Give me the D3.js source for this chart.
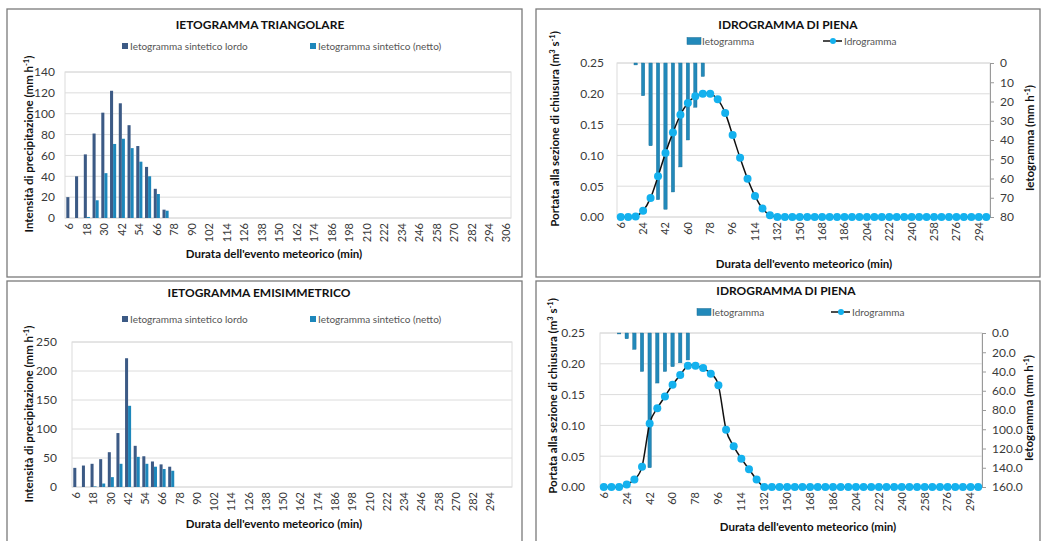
<!DOCTYPE html>
<html>
<head>
<meta charset="utf-8">
<script src="https://cdn.jsdelivr.net/npm/d3@7"></script>
<style>
  body { margin: 0; background: #fff; }
  svg text { font-family: Lato, "Open Sans", sans-serif; fill: #404040; }
  .title { font-weight: bold; font-size: 12px; fill: #111; }
  .axTitle { font-weight: bold; font-size: 11.5px; fill: #111; }
  .tick text { font-size: 12px; fill: #3a3a3a; }
  .xlab .tick text { font-size: 11px; }
  .legend text { font-size: 10px; fill: #555; }
</style>
</head>
<body>
<svg id="chart" width="1047" height="541"></svg>
<script>
// categories (minutes)
var durate = [6,12,18,24,30,36,42,48,54,60,66,72,78,84,90,96,102,108,114,120,126,132,138,144,150,156,162,168,174,180,186,192,198,204,210,216,222,228,234,240,246,252,258,264,270,276,282,288,294,300,306];
var durateIdro = [6,12,18,24,30,36,42,48,54,60,66,72,78,84,90,96,102,108,114,120,126,132,138,144,150,156,162,168,174,180,186,192,198,204,210,216,222,228,234,240,246,252,258,264,270,276,282,288,294,300];

// tick labels
var tickTri = [6,18,30,42,54,66,78,90,102,114,126,138,150,162,174,186,198,210,222,234,246,258,270,282,294,306];
var tickEmi = [6,18,30,42,54,66,78,90,102,114,126,138,150,162,174,186,198,210,222,234,246,258,270,282,294];
var tickIdro = [6,24,42,60,78,96,114,132,150,168,186,204,222,240,258,276,294];

// ietogramma triangolare (mm/h), first 12 durations, rest are 0
var lordoTri = [20,40,61,81,101,122,110,89,69,49,28,8];
var nettoTri = [0,0,1,17,43,71,76,67,54,40,23,7];

// ietogramma emisimmetrico (mm/h)
var lordoEmi = [33,37,40,48,60,93,222,71,53,44,39,35];
var nettoEmi = [0,0,1,6,17,40,140,52,40,35,31,28];

// idrogrammi di piena (m3/s)
var idroTri = [0,0,0.001,0.010,0.031,0.066,0.104,0.137,0.166,0.185,0.196,0.200,0.200,0.191,0.169,0.133,0.096,0.062,0.034,0.014,0.003,0,0,0,0,0,0,0,0,0,0,0,0,0,0,0,0,0,0,0,0,0,0,0,0,0,0,0,0,0];
var idroEmi = [0,0,0,0.004,0.012,0.033,0.103,0.128,0.147,0.166,0.182,0.197,0.197,0.193,0.184,0.165,0.093,0.066,0.046,0.029,0.012,0,0,0,0,0,0,0,0,0,0,0,0,0,0,0,0,0,0,0,0,0,0,0,0,0,0,0,0,0];

var svg = d3.select("#chart");

var cLordo = "#3c5a85";
var cNetto = "#1d87bb";
var cBar = "#2289ba";
var cMarker = "#14b1ee";
var cGrid = "#dcdcdc";

// panel frames
[[7, 9, 515, 268], [536, 9, 504, 268], [7, 281, 515, 264], [536, 281, 504, 264]].forEach(function(b) {
  svg.append("rect")
    .attr("x", b[0]).attr("y", b[1])
    .attr("width", b[2]).attr("height", b[3])
    .attr("fill", "none")
    .attr("stroke", "#7a7a7a")
    .attr("stroke-width", 1.3);
});

// rotated axis title; parts = [[text, superscript?], ...]
function unitTitle(cx, cy, parts) {
  var t = svg.append("text")
    .attr("class", "axTitle")
    .attr("transform", "translate(" + cx + "," + cy + ") rotate(-90)")
    .attr("text-anchor", "middle")
    .attr("dy", "0.35em");
  var up = false;
  parts.forEach(function(p) {
    var s = t.append("tspan").text(p[0]);
    if (p[1] && !up) { s.attr("dy", -4).attr("font-size", "7.5px"); up = true; }
    else if (!p[1] && up) { s.attr("dy", 4); up = false; }
    else if (p[1]) { s.attr("font-size", "7.5px"); }
  });
}

function xTitle(cx, y) {
  svg.append("text")
    .attr("class", "axTitle")
    .attr("x", cx).attr("y", y)
    .attr("text-anchor", "middle")
    .text("Durata dell'evento meteorico (min)");
}

function xLabels(x, bottom, ticks) {
  var ax = svg.append("g")
    .attr("class", "xlab")
    .attr("transform", "translate(0," + bottom + ")")
    .call(d3.axisBottom(x).tickValues(ticks).tickSize(0));
  ax.select(".domain").remove();
  ax.selectAll("text")
    .attr("transform", "rotate(-90)")
    .attr("text-anchor", "end")
    .attr("x", -5)
    .attr("y", 0)
    .attr("dy", "0.35em");
}

// ---- Ietogramma panels (left) ----
function ietoPanel(p) {
  var x = d3.scaleBand().domain(durate).range([p.left, p.right]).paddingInner(0.3).paddingOuter(0.15);
  var xs = d3.scaleBand().domain(["lordo", "netto"]).range([0, x.bandwidth()]);
  var y = d3.scaleLinear().domain([0, p.yMax]).range([p.bottom, p.top]);
  var yTicks = d3.range(0, p.yMax + 1, p.yStep);

  // grid
  svg.append("g").selectAll("line").data(yTicks).enter()
    .append("line")
    .attr("x1", p.left).attr("x2", p.right)
    .attr("y1", function(d) { return y(d); })
    .attr("y2", function(d) { return y(d); })
    .attr("stroke", cGrid);
  svg.append("rect")
    .attr("x", p.left).attr("y", p.top)
    .attr("width", p.right - p.left).attr("height", p.bottom - p.top)
    .attr("fill", "none").attr("stroke", cGrid);

  var ay = svg.append("g")
    .attr("transform", "translate(" + (p.left - p.yPad) + ",0)")
    .call(d3.axisLeft(y).tickValues(yTicks).tickSize(0));
  ay.select(".domain").remove();

  xLabels(x, p.bottom, p.ticks);

  // bars
  svg.append("g").selectAll("rect").data(p.lordo).enter()
    .append("rect")
    .attr("x", function(d, i) { return x(durate[i]) + xs("lordo"); })
    .attr("y", function(d) { return y(d); })
    .attr("width", xs.bandwidth())
    .attr("height", function(d) { return p.bottom - y(d); })
    .attr("fill", cLordo);
  svg.append("g").selectAll("rect").data(p.netto).enter()
    .append("rect")
    .attr("x", function(d, i) { return x(durate[i]) + xs("netto"); })
    .attr("y", function(d) { return y(d); })
    .attr("width", xs.bandwidth())
    .attr("height", function(d) { return p.bottom - y(d); })
    .attr("fill", cNetto);

  svg.append("text").attr("class", "title")
    .attr("x", p.titleX).attr("y", p.titleY)
    .attr("text-anchor", "middle").attr("dy", "0.35em")
    .text(p.title);

  // legend
  var lg = svg.append("g").attr("class", "legend");
  [["Ietogramma sintetico lordo", cLordo, 122], ["Ietogramma sintetico (netto)", cNetto, 310]].forEach(function(l) {
    lg.append("rect").attr("x", l[2]).attr("y", p.legY - 3).attr("width", 6).attr("height", 6).attr("fill", l[1]);
    lg.append("text").attr("x", l[2] + 8).attr("y", p.legY).attr("dy", "0.35em").text(l[0]);
  });

  unitTitle(29, p.yTitleY, [["Intensità di precipitazione (mm h"], ["-1", true], [")"]]);
  xTitle(274, p.xTitleY);
}

ietoPanel({
  left: 65, right: 511, top: 72, bottom: 218, yMax: 140, yStep: 20, yPad: 7,
  lordo: lordoTri, netto: nettoTri, ticks: tickTri,
  title: "IETOGRAMMA TRIANGOLARE", titleX: 260, titleY: 25, legY: 46,
  yTitleY: 144, xTitleY: 258
});
ietoPanel({
  left: 72, right: 512, top: 342, bottom: 487, yMax: 250, yStep: 50, yPad: 12,
  lordo: lordoEmi, netto: nettoEmi, ticks: tickEmi,
  title: "IETOGRAMMA EMISIMMETRICO", titleX: 259, titleY: 293, legY: 319,
  yTitleY: 414, xTitleY: 528
});

// ---- Idrogramma panels (right) ----
function idroPanel(p) {
  var x = d3.scaleBand().domain(durateIdro).range([p.left, p.right]);
  var xb = d3.scaleBand().domain(durateIdro).range([p.left, p.right]).paddingInner(0.55).paddingOuter(0.275);
  var y = d3.scaleLinear().domain([0, 0.25]).range([p.bottom, p.top]);
  var y2 = d3.scaleLinear().domain([0, p.y2Max]).range([p.top, p.bottom]);
  var yTicks = d3.range(0, 0.2501, 0.05);

  svg.append("g").selectAll("line").data(yTicks).enter()
    .append("line")
    .attr("x1", p.left).attr("x2", p.right)
    .attr("y1", function(d) { return y(d); })
    .attr("y2", function(d) { return y(d); })
    .attr("stroke", cGrid);
  svg.append("rect")
    .attr("x", p.left).attr("y", p.top)
    .attr("width", p.right - p.left).attr("height", p.bottom - p.top)
    .attr("fill", "none").attr("stroke", cGrid);

  var ay = svg.append("g")
    .attr("transform", "translate(" + (p.left - p.yPad) + ",0)")
    .call(d3.axisLeft(y).tickValues(yTicks).tickSize(0).tickFormat(d3.format(".2f")));
  ay.select(".domain").remove();

  var ay2 = svg.append("g")
    .attr("transform", "translate(" + p.right + ",0)")
    .call(d3.axisRight(y2).tickValues(d3.range(0, p.y2Max + 1, p.y2Step)).tickSize(4).tickPadding(6).tickFormat(d3.format(p.y2Fmt)));
  ay2.select(".domain").attr("stroke", "#9a9a9a");
  ay2.selectAll(".tick line").attr("stroke", "#9a9a9a");

  xLabels(x, p.bottom, tickIdro);

  // ietogramma bars hanging from the top
  svg.append("g").selectAll("rect").data(p.bars).enter()
    .append("rect")
    .attr("x", function(d, i) { return xb(durateIdro[i]); })
    .attr("y", p.top)
    .attr("width", xb.bandwidth())
    .attr("height", function(d) { return y2(d) - p.top; })
    .attr("fill", cBar)
    .attr("stroke", "#1b6d94")
    .attr("stroke-width", 0.4);

  // idrogramma
  var line = d3.line()
    .x(function(d, i) { return x(durateIdro[i]) + x.bandwidth() / 2; })
    .y(function(d) { return y(d); })
    .curve(d3.curveCatmullRom.alpha(0));
  svg.append("path")
    .datum(p.idro)
    .attr("d", line)
    .attr("fill", "none")
    .attr("stroke", "#111")
    .attr("stroke-width", 1.5);
  svg.append("g").selectAll("circle").data(p.idro).enter()
    .append("circle")
    .attr("cx", function(d, i) { return x(durateIdro[i]) + x.bandwidth() / 2; })
    .attr("cy", function(d) { return y(d); })
    .attr("r", 4)
    .attr("fill", cMarker);

  svg.append("text").attr("class", "title")
    .attr("x", p.titleX).attr("y", p.titleY)
    .attr("text-anchor", "middle").attr("dy", "0.35em")
    .text("IDROGRAMMA DI PIENA");

  var lg = svg.append("g").attr("class", "legend");
  lg.append("rect").attr("x", p.leg1X).attr("y", p.legY - 3.5).attr("width", 14).attr("height", 7)
    .attr("fill", cBar).attr("stroke", "#1b6d94").attr("stroke-width", 0.5);
  lg.append("text").attr("x", p.leg1X + 15).attr("y", p.legY).attr("dy", "0.35em").text("Ietogramma");
  lg.append("line").attr("x1", p.leg2X).attr("x2", p.leg2X + 19)
    .attr("y1", p.legY).attr("y2", p.legY).attr("stroke", "#111").attr("stroke-width", 1.5);
  lg.append("circle").attr("cx", p.leg2X + 10).attr("cy", p.legY).attr("r", 3).attr("fill", cMarker);
  lg.append("text").attr("x", p.leg2X + 21).attr("y", p.legY).attr("dy", "0.35em").text("Idrogramma");

  unitTitle(p.yTitleX, p.yTitleY,
    [["Portata alla sezione di chiusura (m"], ["3", true], [" s"], ["-1", true], [")"]]);
  unitTitle(p.y2TitleX, p.y2TitleY, [["Ietogramma (mm h"], ["-1", true], [")"]]);

  xTitle(p.xTitleX, p.xTitleY);
}

idroPanel({
  left: 617, right: 990, top: 63, bottom: 217,
  y2Max: 80, y2Step: 10, y2Fmt: "d", yPad: 10,
  bars: nettoTri, idro: idroTri,
  titleX: 788, titleY: 25, legY: 41, leg1X: 687, leg2X: 823,
  yTitleX: 555, yTitleY: 129, y2TitleX: 1030, y2TitleY: 138,
  xTitleX: 804, xTitleY: 268
});
idroPanel({
  left: 600, right: 982, top: 333, bottom: 487,
  y2Max: 160, y2Step: 20, y2Fmt: ".1f", yPad: 12,
  bars: nettoEmi, idro: idroEmi,
  titleX: 786, titleY: 291, legY: 312, leg1X: 697, leg2X: 831,
  yTitleX: 553, yTitleY: 396, y2TitleX: 1029, y2TitleY: 408,
  xTitleX: 808, xTitleY: 531
});
</script>
</body>
</html>
